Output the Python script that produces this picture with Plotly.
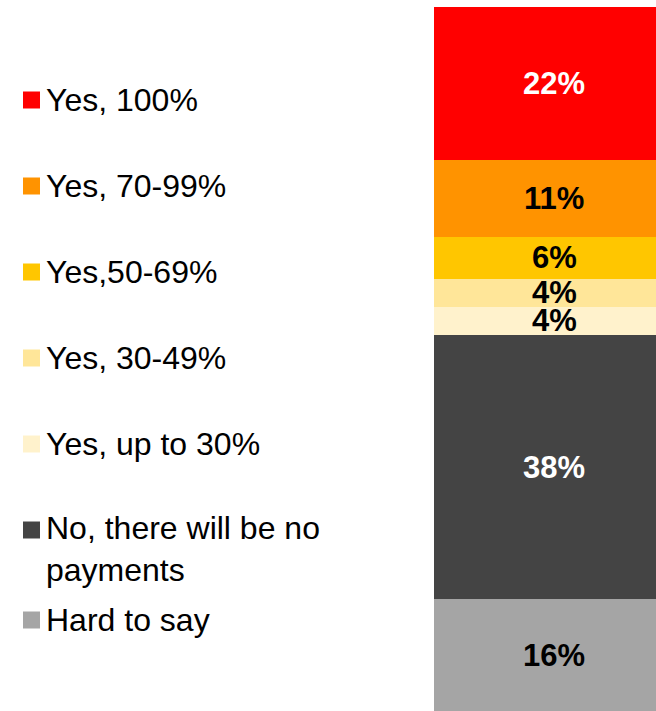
import plotly.graph_objects as go

W, H = 656, 711

# Data (bottom to top stacking order)
categories = ["Hard to say", "No, there will be no<br>payments", "Yes, up to 30%",
              "Yes, 30-49%", "Yes,50-69%", "Yes, 70-99%", "Yes, 100%"]
values = [16, 38, 4, 4, 6, 11, 22]
colors = ["#A5A5A5", "#444444", "#FFF2CC", "#FFE699", "#FFC600", "#FF9300", "#FF0000"]
label_colors = ["black", "white", "black", "black", "black", "black", "white"]
labels = [f"{v}%" for v in values]

# Legend order (top to bottom) and pixel centers of the first text line
legend_order = ["Yes, 100%", "Yes, 70-99%", "Yes,50-69%", "Yes, 30-49%",
                "Yes, up to 30%", "No, there will be no<br>payments", "Hard to say"]
legend_y_px = [100, 186, 272, 358, 444, 530, 620]

FONT = "Liberation Sans, Arial, sans-serif"

fig = go.Figure()
total = sum(values)
cum = 0
annotations = []
for cat, v, c, lc, lab in zip(categories, values, colors, label_colors, labels):
    fig.add_trace(go.Bar(x=[0], y=[v], name=cat, marker=dict(color=c, line=dict(width=0)),
                         width=1, showlegend=False, hoverinfo="skip"))
    annotations.append(dict(x=0, y=cum + v / 2, xref="x", yref="y", text=f"<b>{lab}</b>",
                            showarrow=False, font=dict(family=FONT, size=31, color=lc),
                            xanchor="center", yanchor="middle"))
    cum += v

shapes = []
cmap = dict(zip(categories, colors))
for cat, py in zip(legend_order, legend_y_px):
    shapes.append(dict(type="rect", xref="paper", yref="paper",
                       x0=23 / W, x1=40 / W, y0=1 - (py + 8.5) / H, y1=1 - (py - 8.5) / H,
                       fillcolor=cmap[cat], line=dict(width=0)))
    multiline = "<br>" in cat
    annotations.append(dict(x=44 / W, y=1 - (py - 22 if multiline else py) / H,
                            xref="paper", yref="paper", text=cat, showarrow=False,
                            align="left", xanchor="left",
                            yanchor="top" if multiline else "middle",
                            font=dict(family=FONT, size=32, color="black")))

# bar spans pixels 434..674 (clipped at 656)
bar_left, bar_right = 434, 674
unit = bar_right - bar_left
x_hi = -0.5 + (W - bar_left) / unit

fig.update_layout(
    width=W, height=H, barmode="stack",
    margin=dict(l=0, r=0, t=0, b=0),
    paper_bgcolor="white", plot_bgcolor="white",
    xaxis=dict(domain=[bar_left / W, 1], range=[-0.5, x_hi], visible=False, fixedrange=True),
    yaxis=dict(domain=[0, 1 - 7 / H], range=[0, total], visible=False, fixedrange=True),
    annotations=annotations, shapes=shapes, bargap=0,
)

fig.write_html("out.html")
